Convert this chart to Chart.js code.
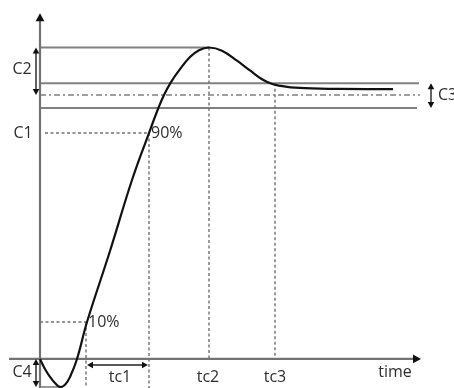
<!DOCTYPE html>
<html><head><meta charset="utf-8">
<script src="https://cdn.jsdelivr.net/npm/chart.js@4.4.0/dist/chart.umd.min.js"></script>
<style>html,body{margin:0;padding:0;background:#fff;}canvas{display:block;}</style>
</head><body>
<canvas id="c" width="454" height="388"></canvas>
<script>
// Step response curve (time units, response in % of setpoint)
const timeVals = [0, 5, 10, 15, 20, 25, 30, 37, 47, 70, 92, 109, 118, 124, 131, 140, 150, 159, 169, 182, 197, 210, 222, 233, 247, 265, 300, 353];
const respVals = [0, -3.8, -6.8, -9.1, -10.6, -9.8, -6.8, 0, 14.0, 40.9, 67.8, 85.6, 94.7, 100, 104.9, 109.8, 114.4, 117.0, 118.0, 116.8, 113.0, 109.3, 106.0, 104.1, 103.1, 102.6, 102.3, 102.2];
// Reference levels
const peakLevel = 118.0, upperBand = 104.5, setpoint = 100, lowerBand = 95.1, c1Level = 85.6, tenLevel = 14, minLevel = -10.6;
// Time marks
const t10 = 46, t90 = 109, tc2 = 169, tc3 = 235;
const tickLabels = ['tc1', 'tc2', 'tc3', 'time'];
const tickPos = [80, 168, 235, 355];
const levelLabels = ['C2', 'C1', 'C3', 'C4'];
const pctLabels = ['90%', '10%'];
const axisEndX = 378, axisStartX = -31, axisTopY = 131, bandEndX = 379;

const annot = {
  id: 'annot',
  beforeDatasetsDraw(chart) {
    const ctx = chart.ctx, xs = chart.scales.x, ys = chart.scales.y;
    const X = v => xs.getPixelForValue(v), Y = v => ys.getPixelForValue(v);
    const bottom = chart.chartArea.bottom;
    ctx.save();
    function line(x1, y1, x2, y2, col, w, dash) {
      ctx.beginPath(); ctx.strokeStyle = col; ctx.lineWidth = w; ctx.setLineDash(dash || []);
      ctx.moveTo(x1, y1); ctx.lineTo(x2, y2); ctx.stroke();
    }
    // band lines
    const bc = '#808080';
    line(X(0), Y(peakLevel), X(tc2), Y(peakLevel), bc, 2);
    line(X(0), Y(upperBand), X(bandEndX), Y(upperBand), bc, 2);
    line(X(0), Y(setpoint), X(bandEndX + 1), Y(setpoint), bc, 1.5, [6, 3, 2, 3]);
    line(X(0), Y(lowerBand), X(bandEndX - 2), Y(lowerBand), bc, 2);
    // dashed guides
    const dc = '#707070', dd = [3, 2.5];
    line(X(5), Y(c1Level), X(t90), Y(c1Level), dc, 1.4, dd);
    line(X(0), Y(tenLevel), X(t10), Y(tenLevel), dc, 1.4, dd);
    line(X(t10), Y(tenLevel), X(t10), bottom, dc, 1.4, dd);
    line(X(t90), Y(c1Level), X(t90), bottom, dc, 1.4, dd);
    line(X(tc2), Y(peakLevel), X(tc2), Y(0), dc, 1.4, dd);
    line(X(tc3), Y(upperBand), X(tc3), Y(0), dc, 1.4, dd);
    // axes
    line(X(0), bottom, X(0), Y(axisTopY) + 4, '#737373', 2.2);
    line(X(axisStartX), Y(0), X(axisEndX) - 2, Y(0), '#737373', 2.2);
    // C4 base line
    line(X(0), Y(minLevel), X(20), Y(minLevel), '#777', 1.5);
    ctx.restore();
  },
  afterDatasetsDraw(chart) {
    const ctx = chart.ctx, xs = chart.scales.x, ys = chart.scales.y;
    const X = v => xs.getPixelForValue(v), Y = v => ys.getPixelForValue(v);
    ctx.save();
    ctx.setLineDash([]);
    function tri(x, y, dir, s) {
      ctx.beginPath(); ctx.fillStyle = '#111';
      if (dir === 'up') { ctx.moveTo(x, y); ctx.lineTo(x - s * 0.55, y + s); ctx.lineTo(x + s * 0.55, y + s); }
      if (dir === 'down') { ctx.moveTo(x, y); ctx.lineTo(x - s * 0.55, y - s); ctx.lineTo(x + s * 0.55, y - s); }
      if (dir === 'right') { ctx.moveTo(x, y); ctx.lineTo(x - s, y - s * 0.55); ctx.lineTo(x - s, y + s * 0.55); }
      if (dir === 'left') { ctx.moveTo(x, y); ctx.lineTo(x + s, y - s * 0.55); ctx.lineTo(x + s, y + s * 0.55); }
      ctx.closePath(); ctx.fill();
    }
    function vbr(x, y1, y2) {
      ctx.beginPath(); ctx.strokeStyle = '#222'; ctx.lineWidth = 1.4;
      ctx.moveTo(x, y1 + 3); ctx.lineTo(x, y2 - 3); ctx.stroke();
      tri(x, y1, 'up', 6); tri(x, y2, 'down', 6);
    }
    // axis arrows
    tri(X(0), Y(axisTopY), 'up', 8);
    tri(X(axisEndX) + 3, Y(0), 'right', 8);
    // brackets
    vbr(X(-4), Y(peakLevel), Y(setpoint));
    vbr(X(391), Y(upperBand), Y(lowerBand));
    vbr(X(-4), Y(0), Y(minLevel));
    // tc1 arrow
    const ya = Y(0) + 6;
    ctx.beginPath(); ctx.strokeStyle = '#222'; ctx.lineWidth = 1.4;
    ctx.moveTo(X(t10) + 3, ya); ctx.lineTo(X(t90) - 3, ya); ctx.stroke();
    tri(X(t10) + 1, ya, 'left', 6); tri(X(t90) - 1, ya, 'right', 6);
    // text
    ctx.fillStyle = '#2e2e2e';
    ctx.font = '16px "Open Sans", sans-serif';
    ctx.textAlign = 'center'; ctx.textBaseline = 'middle';
    ctx.fillText(levelLabels[0], X(-18), (Y(peakLevel) + Y(setpoint)) / 2 - 2);
    ctx.fillText(levelLabels[1], X(-17), Y(c1Level));
    ctx.textAlign = 'left';
    ctx.fillText(levelLabels[2], X(398), (Y(upperBand) + Y(lowerBand)) / 2);
    ctx.textAlign = 'center';
    ctx.fillText(levelLabels[3], X(-18), Y(0) + 13);
    ctx.textAlign = 'left';
    ctx.fillText(pctLabels[0], X(t90) + 2, Y(c1Level));
    ctx.fillText(pctLabels[1], X(t10) + 2, Y(tenLevel));
    ctx.textAlign = 'center';
    ctx.fillText(tickLabels[0], X(tickPos[0]), Y(0) + 18);
    ctx.fillText(tickLabels[1], X(tickPos[1]), Y(0) + 18);
    ctx.fillText(tickLabels[2], X(tickPos[2]), Y(0) + 18);
    ctx.fillText(tickLabels[3], X(tickPos[3]), Y(0) + 13);
    ctx.restore();
  }
};

new Chart(document.getElementById('c'), {
  type: 'line',
  data: {
    datasets: [{
      data: timeVals.map((t, i) => ({ x: t, y: respVals[i] })),
      borderColor: '#111', borderWidth: 2.2, pointRadius: 0,
      tension: 0.4, fill: false
    }]
  },
  options: {
    responsive: false, animation: false,
    layout: { padding: 0 },
    plugins: { legend: { display: false }, tooltip: { enabled: false } },
    scales: {
      x: { type: 'linear', min: -40, max: 414, display: false },
      y: { type: 'linear', min: -11, max: 136, display: false }
    }
  },
  plugins: [annot]
});
</script>
</body></html>
